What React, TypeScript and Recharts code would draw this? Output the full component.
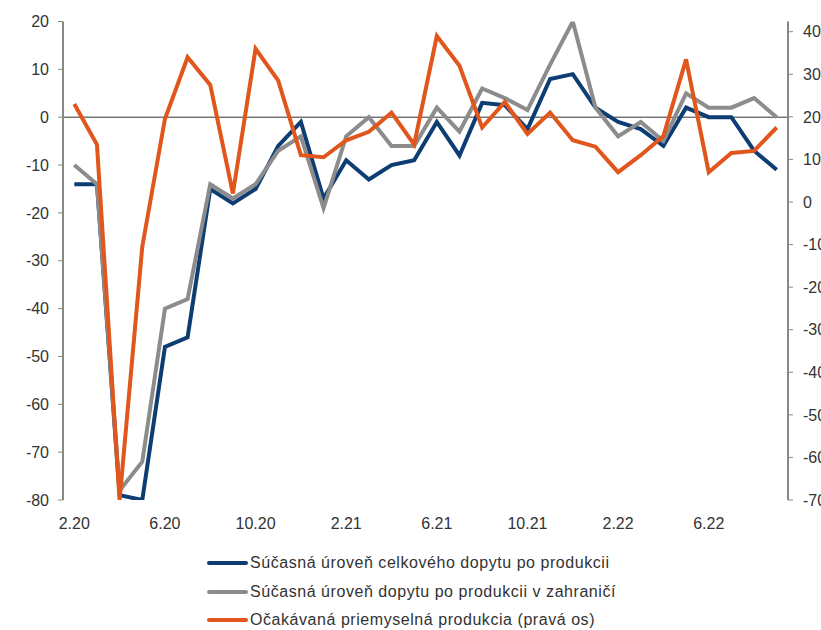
import { LineChart, Line, XAxis, YAxis, ReferenceLine } from 'recharts';

// monthly survey data 2.20 – 9.22
const months = [
  '2.20', '3.20', '4.20', '5.20', '6.20', '7.20', '8.20', '9.20', '10.20', '11.20', '12.20',
  '1.21', '2.21', '3.21', '4.21', '5.21', '6.21', '7.21', '8.21', '9.21', '10.21', '11.21', '12.21',
  '1.22', '2.22', '3.22', '4.22', '5.22', '6.22', '7.22', '8.22', '9.22',
];

const totalDemand = [
  -14, -14, -79, -80, -48, -46, -15, -18, -15, -6, -1,
  -17, -9, -13, -10, -9, -1, -8, 3, 2.5, -2.5, 8, 9,
  2, -1, -2.5, -6, 2, 0, 0, -7, -11,
];

const foreignDemand = [
  -10, -14, -78, -72, -40, -38, -14, -17, -14, -7, -4,
  -19, -4, 0, -6, -6, 2, -3, 6, 4, 1.5, 11, 20,
  2, -4, -1, -5, 5, 2, 2, 4, 0,
];

const expectedOutput = [
  23, 13.5, -70, -10.5, 19.5, 34, 27.5, 2, 36, 28.5, 11,
  10.5, 14.5, 16.5, 21, 13.5, 39, 32, 17.5, 23.5, 16, 21, 14.5,
  13, 7, 11, 15.5, 33.5, 7, 11.5, 12, 17.5,
];

const leftTicks = [-80, -70, -60, -50, -40, -30, -20, -10, 0, 10, 20];
const rightTicks = [-70, -60, -50, -40, -30, -20, -10, 0, 10, 20, 30, 40];

const SERIES = [
  { key: 'total', name: 'Súčasná úroveň celkového dopytu po produkcii', color: '#0d3d73', axis: 'left' },
  { key: 'foreign', name: 'Súčasná úroveň dopytu po produkcii v zahraničí', color: '#8c8c8c', axis: 'left' },
  { key: 'expected', name: 'Očakávaná priemyselná produkcia (pravá os)', color: '#e0561c', axis: 'right' },
];

const data = months.map((m, i) => ({
  month: m,
  total: totalDemand[i],
  foreign: foreignDemand[i],
  expected: expectedOutput[i],
}));

const FONT = '"Liberation Sans", Arial, sans-serif';
const tickStyle = { fontSize: 16, fill: '#333', fontFamily: FONT };

export default function App() {
  return (
    <div style={{ position: 'absolute', left: 0, top: 0, width: 821, height: 630, background: '#fff' }}>
      <LineChart
        width={821}
        height={540}
        data={data}
        margin={{ top: 21.5, right: 0, bottom: 0, left: 0 }}
      >
        <XAxis
          dataKey="month"
          interval={3}
          axisLine={false}
          tickLine={false}
          tickSize={0}
          tickMargin={18}
          height={40}
          padding={{ left: 11.3, right: 11.3 }}
          tick={tickStyle}
        />
        <YAxis
          yAxisId="left"
          domain={[-80, 20]}
          ticks={leftTicks}
          width={63}
          tickSize={5}
          tickMargin={9}
          axisLine={{ stroke: '#888', strokeWidth: 2 }}
          tickLine={{ stroke: '#888' }}
          tick={tickStyle}
          allowDataOverflow
        />
        <YAxis
          yAxisId="right"
          orientation="right"
          domain={[-70, 42.4]}
          ticks={rightTicks}
          width={33}
          tickSize={5}
          tickMargin={10}
          axisLine={{ stroke: '#888', strokeWidth: 2 }}
          tickLine={{ stroke: '#888' }}
          tick={{ ...tickStyle, textAnchor: 'start' }}
          allowDataOverflow
        />
        <ReferenceLine yAxisId="left" y={0} stroke="#333" strokeWidth={1} />
        {SERIES.map(s => (
          <Line
            key={s.key}
            yAxisId={s.axis}
            type="linear"
            dataKey={s.key}
            name={s.name}
            stroke={s.color}
            strokeWidth={4}
            dot={false}
            isAnimationActive={false}
          />
        ))}
      </LineChart>
      <div
        style={{
          position: 'absolute',
          left: 207,
          top: 549,
          fontFamily: FONT,
          fontSize: 16,
          letterSpacing: 0.55,
          color: '#333',
        }}
      >
        {SERIES.map(s => (
          <div key={s.key} style={{ display: 'flex', alignItems: 'center', height: 28.5 }}>
            <span style={{ display: 'inline-block', width: 41, height: 4, borderRadius: 2, background: s.color, marginRight: 2 }} />
            <span style={{ whiteSpace: 'nowrap' }}>{s.name}</span>
          </div>
        ))}
      </div>
    </div>
  );
}
